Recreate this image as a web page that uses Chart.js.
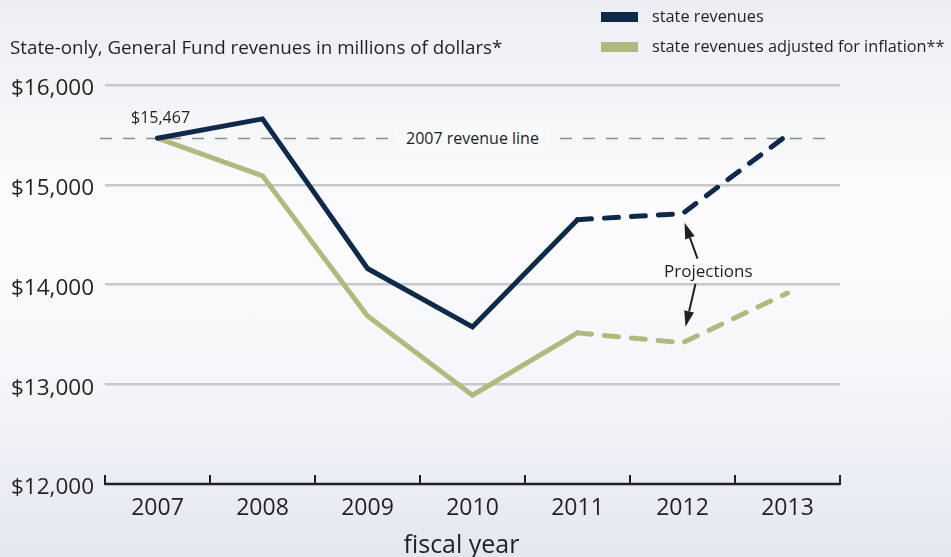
<!DOCTYPE html>
<html>
<head>
<meta charset="utf-8">
<script src="https://cdn.jsdelivr.net/npm/chart.js@4/dist/chart.umd.min.js"></script>
<style>
  html, body { margin: 0; padding: 0; }
  body {
    width: 951px; height: 557px; overflow: hidden; position: relative;
    font-family: 'Open Sans', sans-serif; color: #231f20;
    background: linear-gradient(to bottom, #eceef2 0%, #fcfcfe 38%, #f6f7fa 65%, #e3e7f0 100%);
  }
  #wrap { position: absolute; left: 0; top: 0; width: 951px; height: 557px; }
  .txt { position: absolute; white-space: nowrap; line-height: 1; }
  .swatch { position: absolute; width: 37px; height: 10px; }
</style>
</head>
<body>
<div id="wrap"><canvas id="chart" width="951" height="557"></canvas></div>

<div class="txt" style="left:10px; top:38px; font-size:18.8px;">State-only, General Fund revenues in millions of dollars*</div>

<div class="swatch" style="left:601px; top:12px; background:#0f2a49;"></div>
<div class="txt" style="left:652px; top:8px; font-size:16.3px;">state revenues</div>
<div class="swatch" style="left:601px; top:42px; background:#b3b97e;"></div>
<div class="txt" style="left:652px; top:38px; font-size:16.3px;">state revenues adjusted for inflation**</div>

<div class="txt" id="lbl-base" style="font-size:16px;">$15,467</div>
<div class="txt" id="lbl-line" style="font-size:16px; padding:3px 11px; background:#f8f9fb;">2007 revenue line</div>
<div class="txt" id="lbl-proj" style="font-size:17px;">Projections</div>
<div class="txt" id="lbl-x" style="font-size:25px;">fiscal year</div>

<script>
/* ── Data ── */
const years       = ['2007', '2008', '2009', '2010', '2011', '2012', '2013'];
const revenues    = [15467, 15660, 14160, 13575, 14650, 14710, 15500];
const adjusted    = [15467, 15090, 13685, 12890, 13515, 13415, 13915];
const yTicks      = [12000, 13000, 14000, 15000, 16000];
const baseline    = 15467;   // 2007 revenue line
const firstProjIx = 4;       // segments after 2011 are projections

const NAVY  = '#0f2a49';
const OLIVE = '#b3b97e';
const INK   = '#231f20';

const fmtMoney = v => '$' + v.toLocaleString('en-US');

/* ── Dashed projection segments ── */
const projDash = ctx => ctx.p0DataIndex >= firstProjIx ? [14, 13] : undefined;

/* ── Custom plugin: baseline, x axis with upward ticks, projection arrows ── */
const decorPlugin = {
  id: 'decor',
  beforeDatasetsDraw(chart) {
    const { ctx, chartArea, scales } = chart;
    const y = Math.round(scales.y.getPixelForValue(baseline)) + 0.5;
    ctx.save();
    ctx.strokeStyle = '#8c8c8c';
    ctx.lineWidth = 1.5;
    ctx.setLineDash([12, 11]);
    ctx.beginPath();
    ctx.moveTo(chartArea.left - 5, y);
    ctx.lineTo(chartArea.right - 5, y);
    ctx.stroke();
    ctx.restore();
  },
  afterDatasetsDraw(chart) {
    const { ctx, chartArea, scales } = chart;
    const xs = scales.x, ys = scales.y;
    const yAxis = ys.getPixelForValue(yTicks[0]);
    const half = (xs.getPixelForValue(1) - xs.getPixelForValue(0)) / 2;

    ctx.save();
    ctx.strokeStyle = INK;
    ctx.lineWidth = 2.5;
    ctx.beginPath();
    ctx.moveTo(chartArea.left, yAxis);
    ctx.lineTo(chartArea.right, yAxis);
    ctx.stroke();
    ctx.lineWidth = 2;
    for (let i = 0; i <= years.length; i++) {
      const x = Math.round(xs.getPixelForValue(0) - half + i * half * 2);
      ctx.beginPath();
      ctx.moveTo(x, yAxis + 1);
      ctx.lineTo(x, yAxis - 9);
      ctx.stroke();
    }

    // arrows from "Projections" to the 2012 points
    const px = xs.getPixelForValue(5);
    const pTop = ys.getPixelForValue(revenues[5]);
    const pBot = ys.getPixelForValue(adjusted[5]);
    const arrow = (x0, y0, x1, y1) => {
      ctx.strokeStyle = INK; ctx.fillStyle = INK; ctx.lineWidth = 2;
      const a = Math.atan2(y1 - y0, x1 - x0);
      const hl = 16, hw = 5;
      const bx = x1 - hl * Math.cos(a), by = y1 - hl * Math.sin(a);
      ctx.beginPath(); ctx.moveTo(x0, y0); ctx.lineTo(bx, by); ctx.stroke();
      ctx.beginPath();
      ctx.moveTo(x1, y1);
      ctx.lineTo(bx + hw * Math.sin(a), by - hw * Math.cos(a));
      ctx.lineTo(bx - hw * Math.sin(a), by + hw * Math.cos(a));
      ctx.closePath(); ctx.fill();
    };
    arrow(px + 15, pTop + 45, px + 2, pTop + 9);
    arrow(px + 13, pTop + 70, px + 3, pBot - 16);
    ctx.restore();
  }
};

/* ── Chart ── */
const chart = new Chart(document.getElementById('chart'), {
  type: 'line',
  data: {
    labels: years,
    datasets: [
      { label: 'state revenues', data: revenues, borderColor: NAVY, borderWidth: 5,
        borderCapStyle: 'round', borderJoinStyle: 'miter', pointRadius: 0, tension: 0,
        segment: { borderDash: projDash } },
      { label: 'state revenues adjusted for inflation', data: adjusted, borderColor: OLIVE, borderWidth: 5,
        borderCapStyle: 'round', borderJoinStyle: 'miter', pointRadius: 0, tension: 0,
        segment: { borderDash: projDash } }
    ]
  },
  options: {
    responsive: false, animation: false,
    layout: { padding: { top: 85, right: 111, bottom: 0, left: 0 } },
    plugins: { legend: { display: false }, tooltip: { enabled: false } },
    scales: {
      x: {
        offset: true,
        grid: { display: false },
        border: { display: false },
        ticks: { color: INK, font: { family: 'Open Sans', size: 23 }, padding: 3 },
        afterFit: s => { s.height = 73; }
      },
      y: {
        min: yTicks[0], max: yTicks[yTicks.length - 1],
        afterBuildTicks: s => { s.ticks = yTicks.map(v => ({ value: v })); },
        grid: {
          drawTicks: false,
          color: c => c.tick && c.tick.value === yTicks[0] ? 'rgba(0,0,0,0)' : '#c8c8c8',
          lineWidth: 2.5
        },
        border: { display: false },
        ticks: { color: INK, font: { family: 'Open Sans', size: 22.5 }, padding: 11, labelOffset: 4,
                 callback: v => fmtMoney(v) },
        afterFit: s => { s.width = 105; }
      }
    }
  },
  plugins: [decorPlugin]
});

/* ── Position HTML labels from the scales ── */
function place(id, x, y, anchor) {
  const el = document.getElementById(id);
  const w = el.offsetWidth, h = el.offsetHeight;
  el.style.left = (anchor === 'center' ? x - w / 2 : x) + 'px';
  el.style.top = (y - h / 2) + 'px';
}
const xs = chart.scales.x, ys = chart.scales.y, ca = chart.chartArea;
place('lbl-base', xs.getPixelForValue(0) + 3, ys.getPixelForValue(baseline) - 21, 'center');
place('lbl-line', (xs.getPixelForValue(3)), ys.getPixelForValue(baseline), 'center');
place('lbl-proj', xs.getPixelForValue(5) + 26, ys.getPixelForValue(revenues[5]) + 57, 'center');
place('lbl-x', (ca.left + ca.right) / 2 - 11, 543, 'center');
</script>
</body>
</html>
